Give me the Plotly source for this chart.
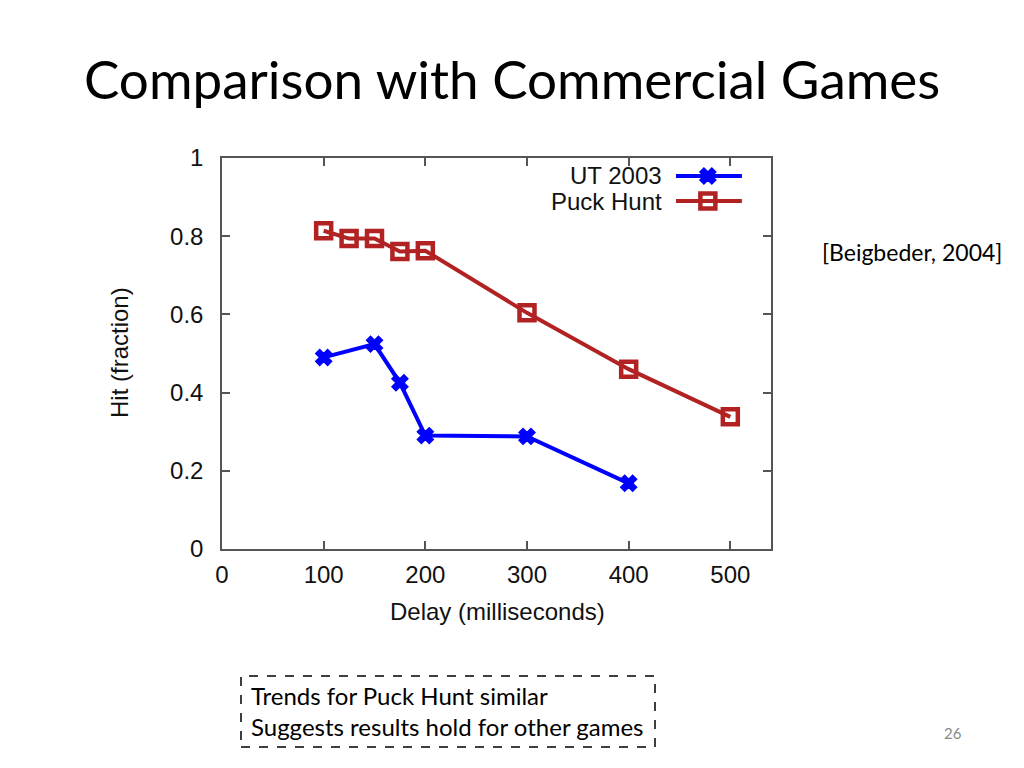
import plotly.graph_objects as go

delay_ut = [100, 150, 175, 200, 300, 400]
hit_ut = [0.49, 0.524, 0.425, 0.29, 0.288, 0.168]
delay_puck = [100, 125, 150, 175, 200, 300, 400, 500]
hit_puck = [0.814, 0.794, 0.794, 0.761, 0.763, 0.604, 0.460, 0.338]
series_names = ["UT 2003", "Puck Hunt"]
x_ticks = [0, 100, 200, 300, 400, 500]
y_ticks = [0, 0.2, 0.4, 0.6, 0.8, 1]
y_tick_labels = ["0", "0.2", "0.4", "0.6", "0.8", "1"]

BLUE = "#0000FF"
RED = "#B22222"
AX = "#555555"
W, H = 1024, 768
OFF = 8  # page body margin offset


def px(xp):
    return (xp - OFF) / W


def py(yp):
    return 1 - (yp - OFF) / H


L, R, T, B = 222, 771, 158, 549
dom_x = [px(L), px(R)]
dom_y = [py(B), py(T)]

fig = go.Figure()
fig.add_trace(go.Scatter(
    x=delay_ut, y=hit_ut, mode="lines+markers", name=series_names[0],
    line=dict(color=BLUE, width=4),
    marker=dict(symbol="x", size=14, color=BLUE, line=dict(color=BLUE, width=1.5)),
    showlegend=False))
fig.add_trace(go.Scatter(
    x=delay_puck, y=hit_puck, mode="lines+markers", name=series_names[1],
    line=dict(color=RED, width=4),
    marker=dict(symbol="square-open", size=15, color=RED, line=dict(color=RED, width=4.5)),
    showlegend=False))

# manual gnuplot-style legend (text left, sample right)
for name, col, sym, sz, lw, yy in [
    (series_names[0], BLUE, "x", 14, 1.5, 0.954),
    (series_names[1], RED, "square-open", 15, 4.5, 0.890),
]:
    fig.add_trace(go.Scatter(
        x=[0.827, 0.947], y=[yy, yy], xaxis="x2", yaxis="y2", mode="lines",
        line=dict(color=col, width=4), showlegend=False, hoverinfo="skip"))
    fig.add_trace(go.Scatter(
        x=[0.885], y=[yy], xaxis="x2", yaxis="y2", mode="markers",
        marker=dict(symbol=sym, size=sz, color=col, line=dict(color=col, width=lw)),
        showlegend=False, hoverinfo="skip"))
    fig.add_annotation(xref="x2", yref="y2", x=0.80, y=yy, text=name,
                       showarrow=False, xanchor="right", yanchor="middle",
                       xshift=3,
                       font=dict(family="Liberation Sans", size=24, color="#111111"))

axis_font = dict(family="Liberation Sans", size=24, color="#111111")
fig.update_layout(
    width=W, height=H,
    margin=dict(l=0, r=0, t=0, b=0),
    paper_bgcolor="white", plot_bgcolor="white",
    xaxis=dict(domain=dom_x, range=[0, 540], tickvals=x_ticks,
               ticks="inside", ticklen=8, tickcolor=AX, tickwidth=1.5,
               showline=True, linecolor=AX, linewidth=1.5, mirror="ticks",
               showgrid=False, zeroline=False, tickfont=axis_font,
               automargin=False, ticklabelstandoff=3),
    yaxis=dict(domain=dom_y, range=[0, 1], tickvals=y_ticks, ticktext=y_tick_labels,
               ticks="inside", ticklen=8, tickcolor=AX, tickwidth=1.5,
               showline=True, linecolor=AX, linewidth=1.5, mirror="ticks",
               showgrid=False, zeroline=False, tickfont=axis_font,
               automargin=False, ticklabelstandoff=12),
    xaxis2=dict(domain=dom_x, range=[0, 1], overlaying="x", visible=False, fixedrange=True),
    yaxis2=dict(domain=dom_y, range=[0, 1], overlaying="y", visible=False, fixedrange=True),
)

# axis titles
fig.add_annotation(xref="paper", yref="paper", x=px(497), y=py(611),
                   text="Delay (milliseconds)", showarrow=False,
                   xanchor="center", yanchor="middle",
                   font=dict(family="Liberation Sans", size=24, color="#111111"))
fig.add_annotation(xref="paper", yref="paper", x=px(119), y=py(353),
                   text="Hit (fraction)", showarrow=False, textangle=-90,
                   xanchor="center", yanchor="middle",
                   font=dict(family="Liberation Sans", size=24, color="#111111"))

slide_font = "Lato"
fig.add_annotation(xref="paper", yref="paper", x=px(82), y=py(79),
                   text="Comparison with Commercial Games", showarrow=False,
                   xanchor="left", yanchor="middle",
                   font=dict(family=slide_font, size=53, color="#000000"))
fig.add_annotation(xref="paper", yref="paper", x=px(912), y=py(252),
                   text="[Beigbeder, 2004]", showarrow=False,
                   xanchor="center", yanchor="middle",
                   font=dict(family=slide_font, size=23, color="#000000"))
fig.add_shape(type="rect", xref="paper", yref="paper",
              x0=px(241), x1=px(655), y0=py(747), y1=py(676),
              line=dict(color="#000000", width=1.5, dash="dash"))
fig.add_annotation(xref="paper", yref="paper", x=px(249), y=py(711),
                   text="Trends for Puck Hunt similar<br>Suggests results hold for other games",
                   showarrow=False, xanchor="left", yanchor="middle", align="left",
                   font=dict(family=slide_font, size=24, color="#000000"))
fig.add_annotation(xref="paper", yref="paper", x=px(953), y=py(733),
                   text="26", showarrow=False, xanchor="center", yanchor="middle",
                   font=dict(family=slide_font, size=15, color="#888888"))

fig.write_html("out.html")
